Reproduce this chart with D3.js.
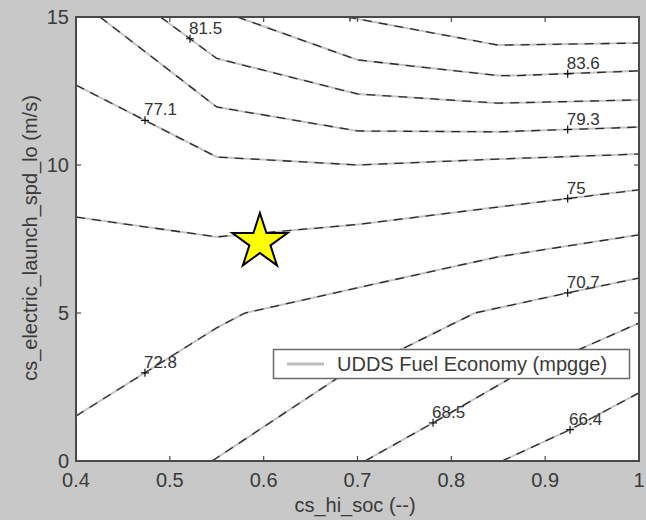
<!DOCTYPE html>
<html>
<head>
<meta charset="utf-8">
<script src="https://cdn.jsdelivr.net/npm/d3@7/dist/d3.min.js"></script>
<style>
  html, body { margin: 0; padding: 0; background: #c8c8c8; }
  svg { display: block; }
  text { font-family: "Liberation Sans", Arial, sans-serif; }
</style>
</head>
<body>
<svg id="chart" width="646" height="520"></svg>
<script>
// Contour levels of UDDS fuel economy (mpgge)
const levels = [66.4, 68.5, 70.7, 72.8, 75, 77.1, 79.3, 81.5, 83.6, 85.7];

// Contour polylines, [cs_hi_soc, cs_electric_launch_spd_lo]
const line664 = [[0.854, 0], [0.926, 1.05], [1.0, 2.3]];
const line685 = [[0.708, 0], [0.78, 1.28], [0.863, 2.8], [0.94, 3.82], [1.0, 4.66]];
const line707 = [[0.545, 0], [0.7, 3.25], [0.75, 3.82], [0.825, 5.0], [0.924, 5.68], [1.0, 6.18]];
const line728 = [[0.4, 1.52], [0.55, 4.5], [0.58, 5.0], [0.7, 5.85], [0.85, 6.9], [1.0, 7.64]];
const line750 = [[0.4, 8.24], [0.55, 7.57], [0.7, 7.99], [0.85, 8.58], [1.0, 9.16]];
const line771 = [[0.4, 12.7], [0.55, 10.27], [0.7, 10.0], [0.85, 10.2], [1.0, 10.37]];
const line793 = [[0.4256, 15], [0.55, 11.96], [0.7, 11.15], [0.85, 11.12], [1.0, 11.28]];
const line815 = [[0.49, 15], [0.55, 13.6], [0.7, 12.4], [0.85, 12.09], [1.0, 12.2]];
const line836 = [[0.572, 15], [0.7, 13.55], [0.85, 13.02], [0.87, 13.02], [1.0, 13.18]];
const line857 = [[0.689, 15], [0.85, 14.05], [1.0, 14.12]];

// x position of each inline label along its contour
const labelX = [0.9265, 0.7805, 0.924, 0.4735, 0.924, 0.4735, 0.924, 0.5215, 0.924, 0.692];
// the top label sits on the upper edge, so only its marker is drawn
const labelShown = [true, true, true, true, true, true, true, true, true, false];

// Design point
const designPoint = [0.596, 7.4];

const xTicks = [0.4, 0.5, 0.6, 0.7, 0.8, 0.9, 1];
const yTicks = [0, 5, 10, 15];
const legendLabel = "UDDS Fuel Economy (mpgge)";
const xTitle = "cs_hi_soc (--)";
const yTitle = "cs_electric_launch_spd_lo (m/s)";

const contourLines = [line664, line685, line707, line728, line750, line771, line793, line815, line836, line857];

const svg = d3.select("#chart");
const pLeft = 76, pRight = 639, pTop = 17, pBottom = 461;

const x = d3.scaleLinear().domain([0.4, 1]).range([pLeft, pRight]);
const y = d3.scaleLinear().domain([0, 15]).range([pBottom, pTop]);

// plot background
svg.append("rect").attr("x", pLeft).attr("y", pTop)
  .attr("width", pRight - pLeft).attr("height", pBottom - pTop).attr("fill", "#fff");

svg.append("clipPath").attr("id", "plotClip")
  .append("rect").attr("x", pLeft).attr("y", pTop)
  .attr("width", pRight - pLeft).attr("height", pBottom - pTop);

const plot = svg.append("g").attr("clip-path", "url(#plotClip)");
const path = d3.line().x(d => x(d[0])).y(d => y(d[1]));

// each contour: light grey stroke with dark dashes on top
contourLines.forEach(pts => {
  plot.append("path").attr("d", path(pts)).attr("fill", "none")
    .attr("stroke", "#c4c4c4").attr("stroke-width", 2);
  plot.append("path").attr("d", path(pts)).attr("fill", "none")
    .attr("stroke", "#2a2a2a").attr("stroke-width", 1.3)
    .attr("stroke-dasharray", "9,7");
});

// y along a contour at a given x
function yAt(pts, xv) {
  for (let i = 0; i < pts.length - 1; i++) {
    const a = pts[i], b = pts[i + 1];
    if (xv >= a[0] && xv <= b[0]) return a[1] + (b[1] - a[1]) * (xv - a[0]) / (b[0] - a[0]);
  }
  return pts[pts.length - 1][1];
}

// inline labels with "+" markers
levels.forEach((lv, i) => {
  const px = x(labelX[i]), py = y(yAt(contourLines[i], labelX[i]));
  plot.append("path")
    .attr("d", `M${px - 4},${py}H${px + 4}M${px},${py - 4}V${py + 4}`)
    .attr("stroke", "#111").attr("stroke-width", 1.2);
  if (labelShown[i]) {
    plot.append("text").attr("x", px - 1).attr("y", py - 5)
      .attr("font-size", 17).attr("fill", "#333")
      .text(lv);
  }
});

// axes frame
svg.append("rect").attr("x", pLeft).attr("y", pTop)
  .attr("width", pRight - pLeft).attr("height", pBottom - pTop)
  .attr("fill", "none").attr("stroke", "#4a4a4a").attr("stroke-width", 2);

// inward ticks on all four sides
const tickG = svg.append("g").attr("stroke", "#4a4a4a").attr("stroke-width", 1.2);
xTicks.forEach(t => {
  tickG.append("line").attr("x1", x(t)).attr("x2", x(t)).attr("y1", pBottom).attr("y2", pBottom - 5);
  tickG.append("line").attr("x1", x(t)).attr("x2", x(t)).attr("y1", pTop).attr("y2", pTop + 5);
});
yTicks.forEach(t => {
  tickG.append("line").attr("x1", pLeft).attr("x2", pLeft + 5).attr("y1", y(t)).attr("y2", y(t));
  tickG.append("line").attr("x1", pRight).attr("x2", pRight - 5).attr("y1", y(t)).attr("y2", y(t));
});

// tick labels
svg.append("g").selectAll("text").data(xTicks).join("text")
  .attr("x", d => x(d)).attr("y", 487).attr("text-anchor", "middle")
  .attr("font-size", 20).attr("fill", "#3a3a3a")
  .text(d => d === 1 ? "1" : d3.format(".1f")(d));
svg.append("g").selectAll("text").data(yTicks).join("text")
  .attr("x", 69).attr("y", d => y(d) + 7).attr("text-anchor", "end")
  .attr("font-size", 20).attr("fill", "#3a3a3a")
  .text(d => d);

// axis titles
svg.append("text").attr("x", 355).attr("y", 512).attr("text-anchor", "middle")
  .attr("font-size", 20).attr("fill", "#3a3a3a").text(xTitle);
svg.append("text").attr("transform", "translate(37,238) rotate(-90)")
  .attr("text-anchor", "middle").attr("font-size", 20).attr("fill", "#3a3a3a")
  .text(yTitle);

// legend
const lg = svg.append("g");
lg.append("rect").attr("x", 273.5).attr("y", 349.5).attr("width", 356).attr("height", 29)
  .attr("fill", "#fff").attr("stroke", "#6a6a6a").attr("stroke-width", 1.5);
lg.append("line").attr("x1", 287).attr("x2", 324).attr("y1", 364).attr("y2", 364)
  .attr("stroke", "#bdbdbd").attr("stroke-width", 3);
lg.append("text").attr("x", 337).attr("y", 371).attr("font-size", 20)
  .attr("fill", "#3a3a3a").text(legendLabel);

// design point star
svg.append("path")
  .attr("d", d3.symbol(d3.symbolStar, 29 * 29 / 0.8908130915292852)())
  .attr("transform", `translate(${x(designPoint[0])},${y(designPoint[1])})`)
  .attr("fill", "#ffff00").attr("stroke", "#000").attr("stroke-width", 2);
</script>
</body>
</html>
